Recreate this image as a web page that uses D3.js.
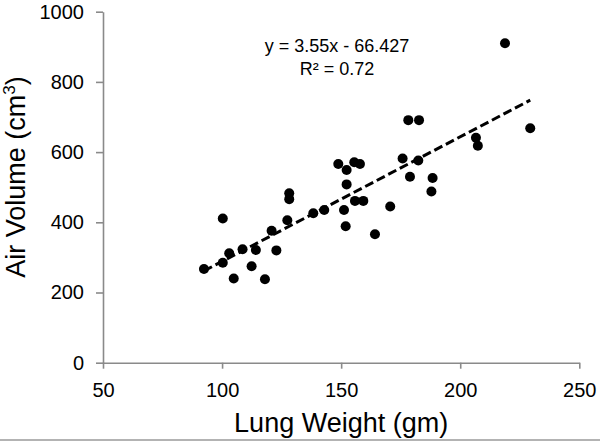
<!DOCTYPE html>
<html>
<head>
<meta charset="utf-8">
<script src="https://cdn.jsdelivr.net/npm/d3@7"></script>
<style>
  html, body { margin: 0; padding: 0; background: #fff; }
  svg { display: block; font-family: "Liberation Sans", Arial, sans-serif; }
</style>
</head>
<body>
<svg id="chart" width="600" height="441"></svg>
<script>
// Data
const lungWeight = [92.4, 100.3, 100.3, 103.0, 104.9, 108.6, 112.4, 114.2, 118.0, 120.8,
  122.8, 127.4, 128.2, 128.2, 138.3, 142.9, 148.8, 151.2, 151.9, 152.3,
  152.3, 155.5, 155.8, 157.9, 159.3, 164.2, 170.6, 175.8, 178.2, 178.9,
  182.4, 182.7, 187.9, 188.4, 206.6, 207.4, 218.8, 229.4];
const airVolume = [267, 285, 411, 312, 240, 323, 275, 321, 238, 376,
  320, 406, 483, 466, 426, 435, 566, 435, 389, 549,
  508, 571, 461, 566, 461, 366, 445, 582, 691, 530,
  576, 691, 488, 526, 641, 618, 910, 668];
const xTicks = [50, 100, 150, 200, 250];
const yTicks = [0, 200, 400, 600, 800, 1000];
const slope = 3.55, intercept = -66.427;
const equationLines = ["y = 3.55x - 66.427", "R² = 0.72"];

const svg = d3.select("#chart");
const x = d3.scaleLinear().domain([50, 250]).range([103, 579.3]);
const y = d3.scaleLinear().domain([0, 1000]).range([362.7, 11.7]);
const axisColor = "#8a8a8a";

// bottom frame line
svg.append("line").attr("x1", 0).attr("x2", 600).attr("y1", 440).attr("y2", 440)
  .attr("stroke", "#9a9a9a").attr("stroke-width", 1.5);

// axes
const gx = svg.append("g").attr("transform", `translate(0,${y(0)})`)
  .call(d3.axisBottom(x).tickValues(xTicks).tickFormat(d3.format("d"))
    .tickSize(6).tickSizeOuter(0).tickPadding(14));
const gy = svg.append("g").attr("transform", `translate(${x(50)},0)`)
  .call(d3.axisLeft(y).tickValues(yTicks).tickFormat(d3.format("d"))
    .tickSize(7).tickSizeOuter(0).tickPadding(12));
[gx, gy].forEach(g => {
  g.select(".domain").attr("stroke", axisColor).attr("stroke-width", 1.6);
  g.selectAll(".tick line").attr("stroke", axisColor).attr("stroke-width", 1.6);
  g.selectAll(".tick text").attr("fill", "#000").style("font-size", "20px")
    .style("font-family", '"Liberation Sans", Arial, sans-serif');
});

// trendline across data range
const xmin = d3.min(lungWeight), xmax = d3.max(lungWeight);
svg.append("line")
  .attr("x1", x(xmin)).attr("y1", y(slope * xmin + intercept))
  .attr("x2", x(xmax)).attr("y2", y(slope * xmax + intercept))
  .attr("stroke", "#000").attr("stroke-width", 3).attr("stroke-dasharray", "9,4");

// points
svg.append("g").selectAll("circle")
  .data(lungWeight.map((w, i) => [w, airVolume[i]]))
  .join("circle")
  .attr("cx", d => x(d[0])).attr("cy", d => y(d[1])).attr("r", 5)
  .attr("fill", "#000");

// equation
svg.append("text").attr("x", 337).attr("y", 52).attr("text-anchor", "middle")
  .style("font-size", "18px").text(equationLines[0]);
svg.append("text").attr("x", 337).attr("y", 75).attr("text-anchor", "middle")
  .style("font-size", "18px").text(equationLines[1]);

// axis titles
svg.append("text").attr("x", (x(50) + x(250)) / 2).attr("y", 432).attr("text-anchor", "middle")
  .style("font-size", "27px").text("Lung Weight (gm)");
const yt = svg.append("text").attr("transform", "translate(25,177) rotate(-90)")
  .attr("text-anchor", "middle").style("font-size", "27px");
yt.append("tspan").text("Air Volume (cm");
yt.append("tspan").attr("dy", -10).style("font-size", "17px").text("3");
yt.append("tspan").attr("dy", 10).text(")");
</script>
</body>
</html>
